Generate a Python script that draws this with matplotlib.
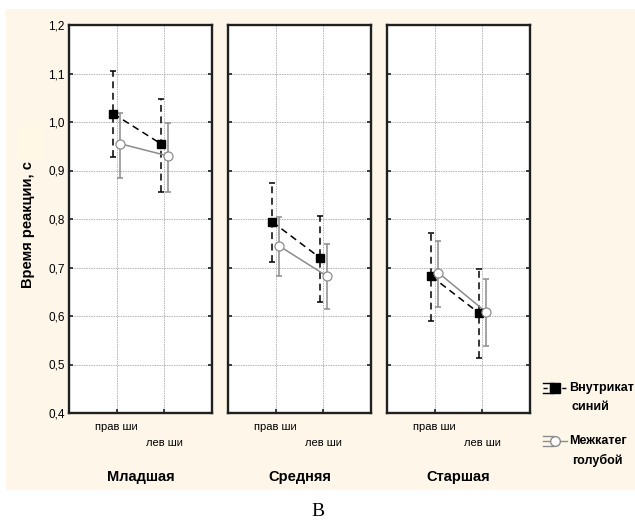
import numpy as np
import matplotlib.pyplot as plt
from matplotlib.patches import Rectangle

plt.rcParams['font.family'] = ['Liberation Sans', 'DejaVu Sans']

groups = ['Младшая', 'Средняя', 'Старшая']
hands = ['прав ши', 'лев ши']
series = ['Внутрикат\nсиний', 'Межкатег\nголубой']

# mean reaction time per group (rows) and hand (cols)
within_mean = [[1.017, 0.955], [0.794, 0.720], [0.682, 0.606]]
within_lo = [[0.928, 0.856], [0.711, 0.629], [0.590, 0.513]]
within_hi = [[1.105, 1.047], [0.874, 0.806], [0.771, 0.697]]
between_mean = [[0.955, 0.930], [0.744, 0.682], [0.689, 0.608]]
between_lo = [[0.885, 0.856], [0.682, 0.614], [0.619, 0.538]]
between_hi = [[1.019, 0.998], [0.804, 0.748], [0.755, 0.676]]

yticks = [0.4, 0.5, 0.6, 0.7, 0.8, 0.9, 1.0, 1.1, 1.2]

BG = '#fef6e9'
GREY = '#8c8c8c'

fig = plt.figure(figsize=(6.35, 5.22), dpi=100)
fig.patch.set_facecolor('white')
fig.patches.append(Rectangle((6 / 635, 32 / 522), 629 / 635, 481 / 522,
                             transform=fig.transFigure, facecolor=BG,
                             edgecolor='none', zorder=-10))

lefts = [69, 228, 387]
x = np.array([1, 2])
for i, g in enumerate(groups):
    ax = fig.add_axes([lefts[i] / 635, 109 / 522, 143 / 635, 388 / 522])
    ax.set_facecolor('white')
    ax.set_xlim(0, 3)
    ax.set_ylim(0.4, 1.2)
    ax.set_xticks(x)
    ax.set_yticks(yticks)
    ax.grid(True, color='#b4b4b4', linestyle=(0, (1.5, 1)), linewidth=0.7)
    ax.set_axisbelow(True)
    for s in ax.spines.values():
        s.set_linewidth(1.7)
        s.set_color('#202020')
    ax.tick_params(axis='both', direction='in', length=3, width=1.2,
                   color='#202020', right=True, labelsize=8.5, pad=3,
                   labelbottom=False)
    if i == 0:
        ax.set_yticklabels([f'{v:.1f}'.replace('.', ',') for v in yticks])
    else:
        ax.set_yticklabels([])

    xs = x - 0.07
    wm = np.array(within_mean[i])
    ax.plot(xs, wm, color='black', linestyle=(0, (4.5, 3)), linewidth=1.1, zorder=3)
    eb = ax.errorbar(xs, wm, yerr=[wm - np.array(within_lo[i]), np.array(within_hi[i]) - wm],
                     fmt='none', ecolor='black', elinewidth=1.1, capsize=2.5,
                     capthick=1.1, zorder=3)
    eb[2][0].set_linestyle((0, (4.5, 3)))
    ax.plot(xs, wm, 's', color='black', markersize=6, zorder=5)

    xc = x + 0.08
    bm = np.array(between_mean[i])
    ax.plot(xc, bm, color=GREY, linewidth=1.1, zorder=3)
    ax.errorbar(xc, bm, yerr=[bm - np.array(between_lo[i]), np.array(between_hi[i]) - bm],
                fmt='none', ecolor=GREY, elinewidth=1.1, capsize=2.5,
                capthick=1.1, zorder=3)
    ax.plot(xc, bm, 'o', markerfacecolor='white', markeredgecolor=GREY,
            markeredgewidth=0.9, markersize=6.5, zorder=6)

    # staggered hand labels and group title under each panel
    ax.text(1, -0.036, hands[0], transform=ax.get_xaxis_transform(),
            ha='center', va='center', fontsize=8)
    ax.text(2, -0.077, hands[1], transform=ax.get_xaxis_transform(),
            ha='center', va='center', fontsize=8)
    ax.text(0.5, -0.165, g, transform=ax.transAxes, ha='center', va='center',
            fontsize=10.5, fontweight='bold')

fig.text(28 / 635, 1 - 225 / 522, 'Время реакции, с', rotation=90,
         ha='center', va='center', fontsize=10.5, fontweight='bold')
# pale block over the top of the axis title
fig.patches.append(Rectangle((18 / 635, 1 - 159 / 522), 24 / 635, 33 / 522,
                             transform=fig.transFigure, facecolor='#fef8e4',
                             edgecolor='none', zorder=5))

# legend drawn as small errorbar glyphs
lax = fig.add_axes([540 / 635, 40 / 522, 95 / 635, 110 / 522])
lax.set_xlim(0, 95)
lax.set_ylim(110, 0)
lax.axis('off')
styles = [
    dict(color='black', ls=(0, (3, 1.5)), marker='s', mfc='black', mec='black'),
    dict(color=GREY, ls='-', marker='o', mfc='white', mec=GREY),
]
for k, (lab, st) in enumerate(zip(series, styles)):
    yc = 16 + k * 53
    lax.plot([3, 27], [yc, yc], color=st['color'], linestyle=st['ls'], lw=1)
    lax.plot([3, 13], [yc - 5, yc - 5], color=st['color'], lw=1)
    lax.plot([3, 13], [yc + 5, yc + 5], color=st['color'], lw=1)
    lax.plot([15], [yc], marker=st['marker'], markerfacecolor=st['mfc'],
             markeredgecolor=st['mec'], markersize=7, linestyle='none')
    first, second = lab.split('\n')
    lax.text(29, yc, first, ha='left', va='center', fontsize=9, fontweight='bold')
    lax.text(32, yc + 19, second, ha='left', va='center', fontsize=9, fontweight='bold')

fig.text(318 / 635, 1 - 511 / 522, 'В', ha='center', va='center',
         fontsize=14, family=['Liberation Serif', 'DejaVu Serif'])

fig.savefig('out.png', dpi=100)
